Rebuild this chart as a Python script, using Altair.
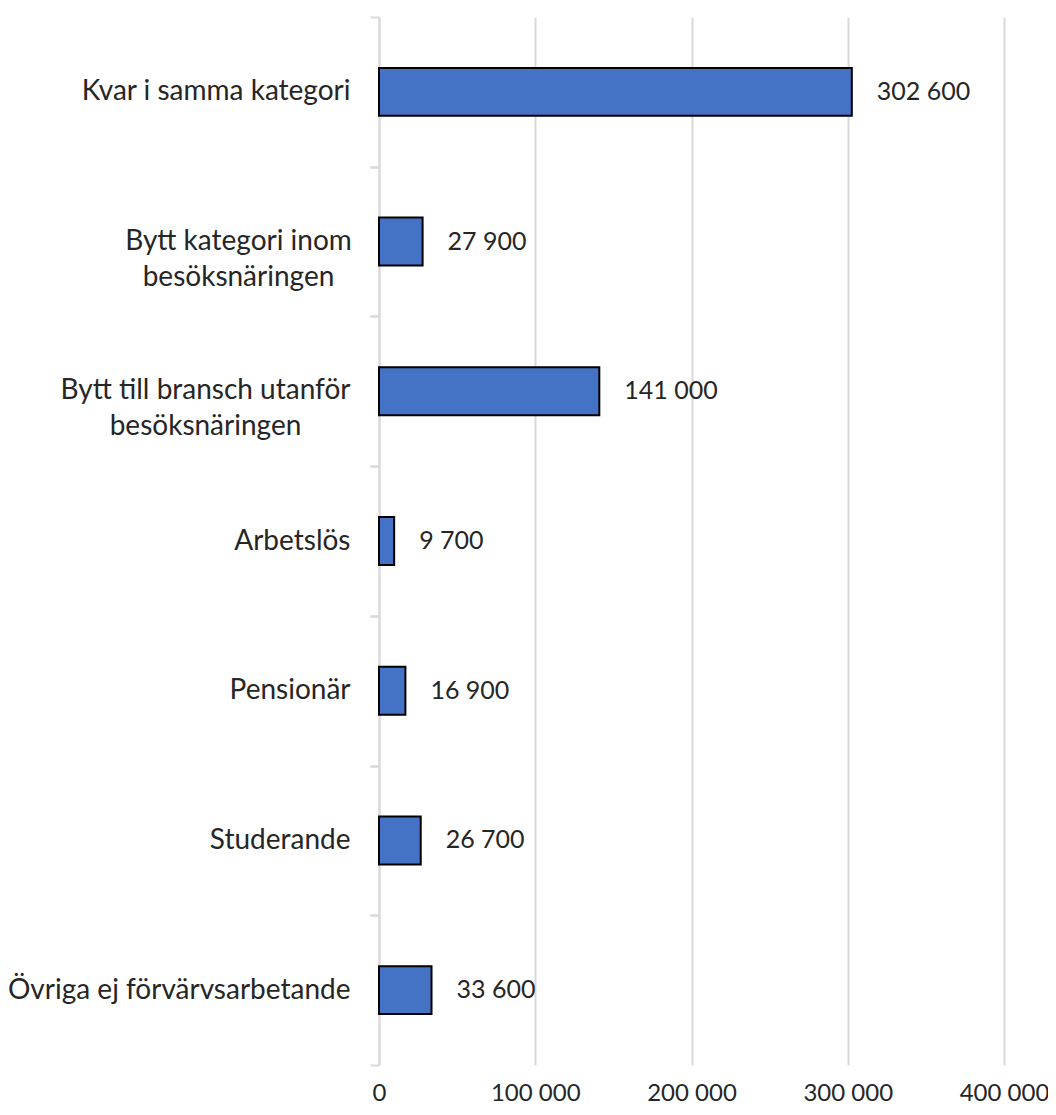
import altair as alt
import pandas as pd

categories = [
    "Kvar i samma kategori",
    "Bytt kategori inom|besöksnäringen",
    "Bytt till bransch utanför|besöksnäringen",
    "Arbetslös",
    "Pensionär",
    "Studerande",
    "Övriga ej förvärvsarbetande",
]
values = [302600, 27900, 141000, 9700, 16900, 26700, 33600]
value_labels = ["302 600", "27 900", "141 000", "9 700", "16 900", "26 700", "33 600"]

df = pd.DataFrame({"cat": categories, "value": values, "label": value_labels})

FONT = "Lato"
TXT = "#262626"
FS = 25
XFS = 24
CAT_FS = 28
GRID = "#d9d9d9"
H = 1048
HALF_STEP = H / len(categories) / 2

x = alt.X(
    "value:Q",
    title=None,
    scale=alt.Scale(domain=[0, 400000], nice=False),
    axis=alt.Axis(
        values=[0, 100000, 200000, 300000, 400000],
        labelExpr="datum.value == 0 ? '0' : format(datum.value / 1000, 'd') + ' 000'",
        labelFont=FONT,
        labelFontSize=XFS,
        labelColor=TXT,
        labelPadding=28,
        labelBaseline="middle",
        labelFlush=False,
        labelOverlap=False,
        ticks=False,
        domain=False,
        grid=True,
        gridColor=GRID,
        gridWidth=2,
    ),
)

yscale = alt.Scale(paddingInner=0.68, paddingOuter=0.34)

common = dict(
    orient="left",
    labelFont=FONT,
    labelFontSize=CAT_FS,
    labelColor=TXT,
    labelLineHeight=36,
    labelLimit=400,
    grid=False,
)

# axis A: single-line labels, right aligned; ticks at upper band boundaries
axis_a = alt.Axis(
    labelExpr="indexof(datum.label, '|') >= 0 ? '' : datum.label",
    labelAlign="right",
    labelPadding=20,
    tickSize=9,
    tickColor=GRID,
    tickWidth=2,
    tickOffset=-HALF_STEP,
    labelOffset=HALF_STEP,
    domainColor=GRID,
    domainWidth=2,
    **common,
)

# axis B: "Bytt till bransch utanför" label, centred lines
axis_b = alt.Axis(
    labelExpr="datum.label == 'Bytt till bransch utanför|besöksnäringen' ? split(datum.label, '|') : ''",
    labelAlign="center",
    labelPadding=174,
    ticks=False,
    domain=False,
    **common,
)

# axis C: "Bytt kategori inom" label, centred lines; ticks at lower band boundaries
axis_c = alt.Axis(
    labelExpr="datum.label == 'Bytt kategori inom|besöksnäringen' ? split(datum.label, '|') : ''",
    labelAlign="center",
    labelPadding=132,
    tickSize=9,
    tickColor=GRID,
    tickWidth=2,
    tickOffset=HALF_STEP,
    labelOffset=-HALF_STEP,
    domain=False,
    **common,
)

bars = alt.Chart(df).mark_bar(
    color="#4472C4", stroke="#000000", strokeWidth=2
).encode(
    x=x,
    y=alt.Y("cat:N", sort=categories, title=None, scale=yscale, axis=axis_a),
)

texts = alt.Chart(df).mark_text(
    align="left", baseline="middle", dx=25, font=FONT, fontSize=FS, color=TXT
).encode(
    x="value:Q",
    y=alt.Y("cat:N", sort=categories, title=None, axis=axis_b),
    text="label:N",
)

ghost = alt.Chart(df).mark_bar(opacity=0).encode(
    x="value:Q",
    y=alt.Y("cat:N", sort=categories, title=None, axis=axis_c),
)

chart = (
    alt.layer(bars, texts, ghost)
    .resolve_axis(y="independent")
    .properties(
        width=625,
        height=H,
        autosize=alt.AutoSizeParams(type="none"),
        padding={"left": 371, "top": 9, "right": 44, "bottom": 42},
    )
    .configure_view(stroke=None)
)

chart.save("out.html", embed_options={"renderer": "svg", "actions": False})
